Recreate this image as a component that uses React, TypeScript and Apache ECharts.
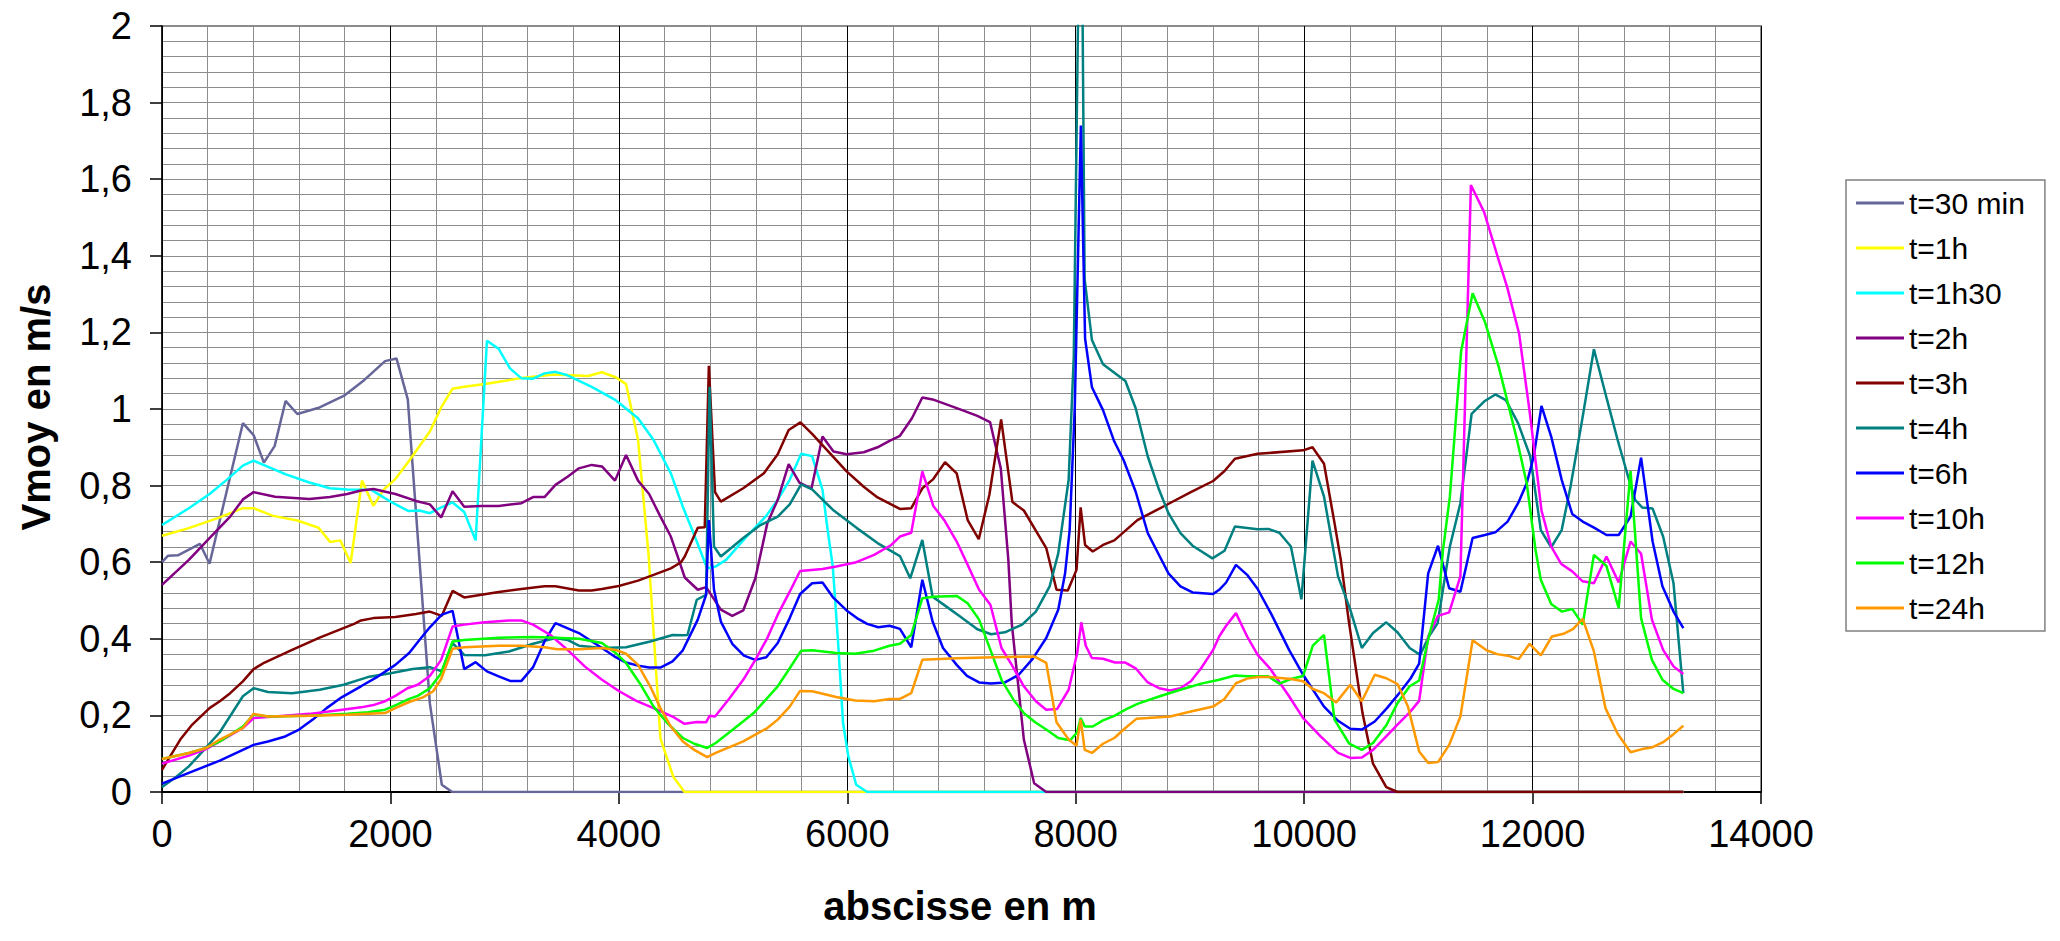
import React, { useEffect, useRef } from 'react';
import * as echarts from 'echarts';

type Pt = [number, number];

const seriesNames = ['t=30 min', 't=1h', 't=1h30', 't=2h', 't=3h', 't=4h', 't=6h', 't=10h', 't=12h', 't=24h'];

const t30min: Pt[] = [
  [0, 0.6], [54, 0.617], [139, 0.618], [332, 0.648], [416, 0.596], [708, 0.963], [802, 0.932], [892, 0.86],
  [986, 0.903], [1082, 1.021], [1185, 0.987], [1380, 1.004], [1591, 1.034], [1772, 1.076], [1953, 1.125],
  [2053, 1.132], [2152, 1.025], [2345, 0.232], [2450, 0.019], [2541, 0], [13320, 0],
];

const t1h: Pt[] = [
  [0, 0.669], [235, 0.689], [506, 0.717], [708, 0.741], [802, 0.741], [974, 0.721], [1185, 0.709], [1371, 0.69],
  [1471, 0.653], [1561, 0.657], [1652, 0.598], [1751, 0.813], [1851, 0.747], [1938, 0.789], [2043, 0.817],
  [2164, 0.865], [2345, 0.941], [2444, 1.004], [2544, 1.053], [2646, 1.058], [2827, 1.065], [3129, 1.08],
  [3430, 1.09], [3731, 1.086], [3852, 1.096], [3972, 1.083], [4063, 1.065], [4168, 0.92], [4260, 0.62],
  [4364, 0.14], [4476, 0.04], [4575, 0], [13320, 0],
];

const t1h30: Pt[] = [
  [0, 0.697], [235, 0.741], [416, 0.778], [567, 0.815], [708, 0.852], [802, 0.865], [1079, 0.83], [1290, 0.808],
  [1471, 0.793], [1622, 0.79], [1833, 0.789], [2013, 0.756], [2155, 0.734], [2254, 0.735], [2345, 0.728],
  [2450, 0.744], [2544, 0.756], [2646, 0.731], [2746, 0.657], [2845, 1.178], [2948, 1.157], [3047, 1.106],
  [3147, 1.08], [3249, 1.079], [3349, 1.093], [3445, 1.097], [3551, 1.088], [3762, 1.058], [3972, 1.023],
  [4168, 0.976], [4304, 0.919], [4455, 0.832], [4560, 0.745], [4660, 0.671], [4773, 0.584], [4848, 0.589],
  [4939, 0.606], [5119, 0.667], [5285, 0.719], [5391, 0.763], [5496, 0.815], [5596, 0.883], [5692, 0.877],
  [5783, 0.789], [5828, 0.684], [5873, 0.589], [5918, 0.397], [5963, 0.18], [6009, 0.093], [6078, 0.019],
  [6174, 0], [13320, 0],
];

const t2h: Pt[] = [
  [0, 0.541], [235, 0.606], [416, 0.663], [597, 0.719], [708, 0.764], [802, 0.783], [989, 0.771], [1290, 0.765],
  [1471, 0.77], [1622, 0.778], [1742, 0.787], [1851, 0.791], [2043, 0.778], [2224, 0.76], [2345, 0.751],
  [2444, 0.717], [2544, 0.785], [2646, 0.745], [2797, 0.747], [2948, 0.747], [3147, 0.754], [3249, 0.77],
  [3349, 0.77], [3445, 0.802], [3551, 0.823], [3650, 0.845], [3762, 0.854], [3852, 0.85], [3966, 0.813],
  [4063, 0.88], [4168, 0.813], [4265, 0.778], [4364, 0.719], [4455, 0.667], [4515, 0.615], [4577, 0.56],
  [4691, 0.528], [4764, 0.535], [4893, 0.476], [4993, 0.46], [5089, 0.474], [5195, 0.558], [5300, 0.702],
  [5391, 0.763], [5487, 0.856], [5581, 0.808], [5686, 0.792], [5783, 0.928], [5879, 0.889], [5994, 0.882],
  [6144, 0.887], [6265, 0.9], [6370, 0.917], [6461, 0.93], [6566, 0.976], [6657, 1.03], [6747, 1.025],
  [6988, 0.999], [7139, 0.982], [7250, 0.966], [7344, 0.845], [7410, 0.606], [7440, 0.441], [7546, 0.137],
  [7636, 0.023], [7742, 0], [13320, 0],
];

const t3h: Pt[] = [
  [0, 0.058], [160, 0.137], [265, 0.176], [416, 0.219], [506, 0.237], [597, 0.258], [708, 0.289], [802, 0.321],
  [898, 0.338], [1139, 0.371], [1380, 0.403], [1682, 0.439], [1742, 0.448], [1851, 0.454], [2043, 0.457],
  [2224, 0.465], [2345, 0.471], [2450, 0.46], [2544, 0.525], [2646, 0.508], [2797, 0.515], [2948, 0.522],
  [3147, 0.53], [3349, 0.537], [3445, 0.537], [3650, 0.526], [3762, 0.526], [3852, 0.53], [3999, 0.538],
  [4168, 0.552], [4304, 0.567], [4455, 0.584], [4545, 0.6], [4577, 0.615], [4691, 0.69], [4752, 0.691],
  [4788, 1.113], [4842, 0.783], [4893, 0.758], [5089, 0.793], [5270, 0.832], [5391, 0.882], [5487, 0.945],
  [5590, 0.965], [5692, 0.935], [5994, 0.837], [6144, 0.797], [6265, 0.769], [6461, 0.739], [6560, 0.741],
  [6657, 0.793], [6753, 0.817], [6856, 0.861], [6958, 0.832], [7054, 0.71], [7151, 0.66], [7244, 0.776],
  [7347, 0.973], [7446, 0.757], [7546, 0.735], [7742, 0.637], [7832, 0.528], [7931, 0.526], [8007, 0.58],
  [8043, 0.743], [8082, 0.645], [8149, 0.628], [8239, 0.645], [8338, 0.657], [8540, 0.71], [8797, 0.75],
  [9008, 0.783], [9203, 0.812], [9303, 0.838], [9394, 0.87], [9593, 0.883], [9991, 0.892], [10073, 0.9],
  [10174, 0.857], [10266, 0.702], [10321, 0.606], [10389, 0.45], [10511, 0.206], [10603, 0.074],
  [10719, 0.013], [10817, 0], [13320, 0],
];

const t4h: Pt[] = [
  [0, 0.013], [115, 0.037], [235, 0.067], [356, 0.106], [506, 0.156], [708, 0.25], [802, 0.271], [928, 0.261],
  [1139, 0.258], [1380, 0.267], [1591, 0.28], [1802, 0.3], [2001, 0.31], [2194, 0.321], [2345, 0.326],
  [2450, 0.315], [2544, 0.389], [2646, 0.358], [2827, 0.357], [3038, 0.367], [3249, 0.387], [3445, 0.402],
  [3551, 0.397], [3650, 0.382], [3852, 0.376], [4063, 0.378], [4274, 0.393], [4470, 0.41], [4560, 0.409],
  [4601, 0.41], [4682, 0.502], [4764, 0.515], [4794, 1.058], [4833, 0.641], [4893, 0.615], [4999, 0.641],
  [5089, 0.663], [5240, 0.697], [5391, 0.719], [5496, 0.751], [5596, 0.803], [5692, 0.79], [5873, 0.737],
  [6084, 0.689], [6265, 0.65], [6461, 0.616], [6551, 0.558], [6657, 0.658], [6747, 0.51], [6868, 0.484],
  [6988, 0.458], [7139, 0.425], [7259, 0.412], [7380, 0.417], [7531, 0.437], [7651, 0.471], [7772, 0.537],
  [7847, 0.623], [7938, 0.815], [7983, 1.137], [8045, 2.6], [8078, 1.34], [8142, 1.18], [8239, 1.117],
  [8435, 1.073], [8525, 1.002], [8631, 0.876], [8730, 0.789], [8812, 0.728], [8917, 0.676], [9023, 0.643],
  [9197, 0.61], [9303, 0.63], [9394, 0.693], [9593, 0.686], [9685, 0.687], [9783, 0.677], [9884, 0.641],
  [9976, 0.503], [10073, 0.865], [10174, 0.771], [10297, 0.563], [10404, 0.476], [10505, 0.376],
  [10603, 0.415], [10719, 0.443], [10817, 0.417], [10924, 0.376], [11016, 0.358], [11092, 0.406],
  [11169, 0.441], [11215, 0.528], [11276, 0.641], [11368, 0.754], [11466, 0.987], [11582, 1.021],
  [11674, 1.038], [11766, 1.023], [11873, 0.963], [11980, 0.876], [12072, 0.684], [12163, 0.639],
  [12255, 0.684], [12332, 0.797], [12439, 0.98], [12537, 1.156], [12653, 1.023], [12745, 0.919],
  [12837, 0.823], [12898, 0.763], [12959, 0.743], [13051, 0.74], [13143, 0.667], [13234, 0.545], [13320, 0.258],
];

const t6h: Pt[] = [
  [0, 0.022], [235, 0.05], [506, 0.082], [708, 0.11], [802, 0.123], [928, 0.132], [1079, 0.145], [1200, 0.163],
  [1320, 0.189], [1441, 0.219], [1561, 0.245], [1742, 0.276], [1893, 0.302], [2043, 0.332], [2164, 0.363],
  [2254, 0.397], [2345, 0.43], [2450, 0.463], [2544, 0.473], [2646, 0.321], [2746, 0.339], [2845, 0.315],
  [2948, 0.302], [3047, 0.29], [3147, 0.29], [3249, 0.326], [3349, 0.393], [3445, 0.441], [3650, 0.415],
  [3852, 0.376], [3972, 0.352], [4063, 0.338], [4168, 0.33], [4265, 0.325], [4364, 0.325], [4470, 0.341],
  [4560, 0.37], [4691, 0.45], [4764, 0.515], [4788, 0.71], [4833, 0.528], [4893, 0.445], [4993, 0.387],
  [5095, 0.356], [5195, 0.345], [5291, 0.352], [5391, 0.389], [5496, 0.454], [5587, 0.517], [5692, 0.545],
  [5783, 0.547], [5873, 0.509], [5994, 0.474], [6084, 0.454], [6174, 0.439], [6271, 0.43], [6370, 0.434],
  [6461, 0.426], [6560, 0.378], [6657, 0.554], [6747, 0.445], [6838, 0.376], [6958, 0.332], [7048, 0.303],
  [7154, 0.286], [7259, 0.283], [7380, 0.286], [7501, 0.306], [7621, 0.347], [7742, 0.402], [7847, 0.476],
  [7907, 0.571], [7947, 0.684], [7992, 1.006], [8045, 1.74], [8082, 1.184], [8142, 1.057], [8239, 0.997],
  [8338, 0.915], [8419, 0.867], [8525, 0.784], [8631, 0.676], [8736, 0.615], [8812, 0.571], [8917, 0.537],
  [9023, 0.521], [9203, 0.517], [9256, 0.528], [9317, 0.547], [9403, 0.593], [9501, 0.567], [9593, 0.53],
  [9715, 0.463], [9868, 0.371], [9991, 0.306], [10174, 0.223], [10297, 0.186], [10404, 0.165],
  [10505, 0.163], [10618, 0.184], [10725, 0.219], [10832, 0.258], [10933, 0.297], [11007, 0.335],
  [11086, 0.571], [11172, 0.643], [11270, 0.532], [11368, 0.523], [11475, 0.663], [11582, 0.671],
  [11674, 0.678], [11781, 0.706], [11873, 0.754], [11949, 0.806], [12010, 0.876], [12078, 1.008],
  [12163, 0.928], [12255, 0.815], [12347, 0.726], [12439, 0.706], [12546, 0.689], [12647, 0.671],
  [12754, 0.671], [12858, 0.719], [12950, 0.873], [13051, 0.654], [13137, 0.537], [13234, 0.471], [13320, 0.428],
];

const t10h: Pt[] = [
  [0, 0.074], [235, 0.095], [386, 0.112], [506, 0.132], [708, 0.167], [802, 0.193], [989, 0.197], [1290, 0.204],
  [1531, 0.213], [1742, 0.221], [1863, 0.228], [1953, 0.237], [2043, 0.251], [2149, 0.271], [2239, 0.28],
  [2345, 0.303], [2444, 0.345], [2544, 0.432], [2646, 0.437], [2827, 0.443], [3038, 0.448], [3147, 0.448],
  [3249, 0.437], [3400, 0.41], [3551, 0.371], [3701, 0.328], [3852, 0.293], [4003, 0.263], [4153, 0.238],
  [4304, 0.219], [4470, 0.197], [4575, 0.178], [4682, 0.183], [4764, 0.182], [4794, 0.199], [4842, 0.197],
  [4969, 0.245], [5089, 0.293], [5195, 0.345], [5300, 0.402], [5391, 0.463], [5496, 0.523], [5587, 0.577],
  [5783, 0.582], [5903, 0.589], [6069, 0.599], [6235, 0.619], [6385, 0.645], [6461, 0.667], [6560, 0.677],
  [6657, 0.837], [6753, 0.747], [6853, 0.708], [6958, 0.654], [7054, 0.593], [7154, 0.528], [7253, 0.489],
  [7350, 0.376], [7440, 0.332], [7546, 0.276], [7651, 0.237], [7742, 0.215], [7838, 0.217], [7938, 0.267],
  [8013, 0.363], [8049, 0.443], [8088, 0.382], [8142, 0.35], [8239, 0.348], [8344, 0.338], [8435, 0.338],
  [8525, 0.323], [8631, 0.286], [8730, 0.271], [8827, 0.265], [8917, 0.271], [9008, 0.289], [9098, 0.323],
  [9203, 0.371], [9256, 0.406], [9317, 0.434], [9403, 0.467], [9501, 0.406], [9593, 0.358], [9700, 0.323],
  [9868, 0.25], [9991, 0.193], [10144, 0.145], [10297, 0.102], [10404, 0.089], [10505, 0.09], [10603, 0.11],
  [10719, 0.145], [10817, 0.176], [10924, 0.208], [11007, 0.238], [11086, 0.406], [11172, 0.46],
  [11270, 0.469], [11368, 0.563], [11460, 1.585], [11576, 1.514], [11690, 1.402], [11777, 1.319],
  [11882, 1.197], [11980, 0.98], [12078, 0.735], [12163, 0.641], [12249, 0.596], [12347, 0.576],
  [12439, 0.55], [12537, 0.545], [12647, 0.615], [12754, 0.547], [12858, 0.654], [12950, 0.622],
  [13045, 0.45], [13143, 0.371], [13234, 0.328], [13320, 0.308],
];

const t12h: Pt[] = [
  [0, 0.086], [235, 0.102], [386, 0.115], [506, 0.132], [708, 0.171], [802, 0.202], [928, 0.197], [1290, 0.199],
  [1622, 0.204], [1802, 0.208], [1953, 0.215], [2043, 0.226], [2164, 0.243], [2239, 0.251], [2345, 0.271],
  [2444, 0.31], [2544, 0.393], [2646, 0.397], [2948, 0.403], [3249, 0.405], [3445, 0.403], [3650, 0.4],
  [3852, 0.389], [3972, 0.363], [4063, 0.337], [4183, 0.284], [4304, 0.223], [4424, 0.18], [4560, 0.141],
  [4660, 0.126], [4773, 0.115], [4848, 0.128], [4999, 0.163], [5180, 0.206], [5391, 0.276], [5496, 0.323],
  [5596, 0.369], [5692, 0.37], [5903, 0.363], [6069, 0.361], [6235, 0.369], [6370, 0.382], [6461, 0.387],
  [6560, 0.41], [6657, 0.506], [6753, 0.51], [6958, 0.512], [7054, 0.493], [7154, 0.45], [7253, 0.371],
  [7350, 0.293], [7455, 0.241], [7546, 0.206], [7645, 0.182], [7742, 0.163], [7847, 0.141], [7952, 0.135],
  [8013, 0.156], [8043, 0.193], [8079, 0.171], [8149, 0.171], [8239, 0.187], [8338, 0.199], [8435, 0.215],
  [8540, 0.23], [8736, 0.25], [8917, 0.267], [9098, 0.283], [9256, 0.293], [9394, 0.304], [9501, 0.302],
  [9685, 0.302], [9783, 0.283], [9884, 0.295], [9991, 0.303], [10076, 0.382], [10174, 0.41], [10266, 0.189],
  [10395, 0.126], [10505, 0.11], [10603, 0.128], [10719, 0.174], [10817, 0.232], [10924, 0.276],
  [11007, 0.291], [11092, 0.406], [11178, 0.502], [11215, 0.63], [11276, 0.771], [11374, 1.15],
  [11475, 1.302], [11582, 1.228], [11704, 1.11], [11857, 0.928], [11949, 0.806], [12026, 0.632],
  [12072, 0.554], [12163, 0.491], [12255, 0.471], [12347, 0.478], [12439, 0.437], [12537, 0.619],
  [12647, 0.59], [12754, 0.48], [12858, 0.838], [12950, 0.454], [13045, 0.345], [13137, 0.293],
  [13234, 0.269], [13320, 0.258],
];

const t24h: Pt[] = [
  [0, 0.086], [235, 0.102], [386, 0.115], [506, 0.137], [708, 0.167], [802, 0.204], [928, 0.197], [1290, 0.199],
  [1622, 0.202], [1953, 0.206], [2043, 0.219], [2164, 0.235], [2284, 0.247], [2375, 0.263], [2444, 0.295],
  [2544, 0.374], [2646, 0.378], [2948, 0.382], [3147, 0.382], [3349, 0.378], [3460, 0.373], [3650, 0.373],
  [3852, 0.376], [3972, 0.371], [4063, 0.361], [4168, 0.332], [4274, 0.276], [4364, 0.219], [4455, 0.171],
  [4560, 0.132], [4660, 0.11], [4773, 0.091], [4848, 0.102], [4969, 0.117], [5089, 0.132], [5195, 0.15],
  [5300, 0.167], [5391, 0.189], [5496, 0.223], [5587, 0.264], [5692, 0.263], [5903, 0.248], [6069, 0.239],
  [6235, 0.237], [6370, 0.243], [6461, 0.243], [6560, 0.258], [6657, 0.345], [6958, 0.349], [7289, 0.352],
  [7636, 0.354], [7742, 0.337], [7832, 0.182], [7938, 0.137], [8007, 0.121], [8043, 0.189], [8079, 0.11],
  [8142, 0.102], [8239, 0.126], [8338, 0.141], [8435, 0.167], [8531, 0.191], [8631, 0.193], [8827, 0.197],
  [9008, 0.21], [9203, 0.223], [9302, 0.243], [9403, 0.284], [9501, 0.296], [9593, 0.3], [9700, 0.3],
  [9884, 0.295], [9991, 0.289], [10076, 0.269], [10174, 0.258], [10281, 0.234], [10404, 0.28], [10505, 0.237],
  [10618, 0.306], [10719, 0.297], [10817, 0.282], [10909, 0.223], [11007, 0.106], [11086, 0.076],
  [11172, 0.078], [11270, 0.123], [11368, 0.197], [11475, 0.396], [11597, 0.37], [11689, 0.36],
  [11781, 0.356], [11879, 0.347], [11974, 0.387], [12072, 0.357], [12169, 0.406], [12271, 0.413],
  [12353, 0.425], [12439, 0.452], [12537, 0.367], [12638, 0.219], [12745, 0.152], [12858, 0.104],
  [12959, 0.112], [13051, 0.117], [13143, 0.13], [13234, 0.151], [13320, 0.173],
];

const seriesColors = ['#666699', '#FFFF00', '#00FFFF', '#800080', '#800000', '#008080', '#0000FF', '#FF00FF', '#00FF00', '#FF9900'];

const FONT = '"Liberation Sans", Arial, sans-serif';

export default function App() {
  const ref = useRef<HTMLDivElement>(null);

  useEffect(() => {
    if (!ref.current) return;
    const chart = echarts.init(ref.current, null, { renderer: 'svg' });
    const allData = [t30min, t1h, t1h30, t2h, t3h, t4h, t6h, t10h, t12h, t24h];

    chart.setOption({
      animation: false,
      backgroundColor: '#ffffff',
      textStyle: { fontFamily: FONT },
      grid: {
        left: 162,
        right: 299,
        top: 26,
        bottom: 149,
        show: true,
        borderColor: '#8c8c8c',
        borderWidth: 2,
        backgroundColor: '#ffffff',
      },
      xAxis: {
        type: 'value',
        min: 0,
        max: 14000,
        interval: 2000,
        axisLine: { show: true, onZero: false, lineStyle: { color: '#000', width: 2 } },
        axisTick: { show: true, inside: false, length: 12, lineStyle: { color: '#000', width: 1.5 } },
        axisLabel: {
          color: '#000',
          fontSize: 38,
          fontFamily: FONT,
          margin: 23,
          formatter: (v: number) => String(Math.round(v)),
        },
        splitLine: { show: true, lineStyle: { color: '#000', width: 1 } },
        minorTick: { show: false, splitNumber: 5 },
        minorSplitLine: { show: true, lineStyle: { color: '#8c8c8c', width: 1 } },
      },
      yAxis: {
        type: 'value',
        min: 0,
        max: 2,
        interval: 0.2,
        axisLine: { show: true, lineStyle: { color: '#000', width: 1.5 } },
        axisTick: { show: true, inside: false, length: 12, lineStyle: { color: '#000', width: 1.5 } },
        axisLabel: {
          color: '#000',
          fontSize: 38,
          fontFamily: FONT,
          margin: 30,
          formatter: (v: number) => String(Number(v.toFixed(1))).replace('.', ','),
        },
        splitLine: { show: true, lineStyle: { color: '#8c8c8c', width: 1 } },
        minorTick: { show: false, splitNumber: 5 },
        minorSplitLine: { show: true, lineStyle: { color: '#8c8c8c', width: 1 } },
      },
      legend: {
        orient: 'vertical',
        left: 1846,
        top: 180,
        icon: 'rect',
        itemWidth: 48,
        itemHeight: 3,
        itemGap: 15,
        padding: [8, 20, 8, 10],
        borderColor: '#808080',
        borderWidth: 1.5,
        backgroundColor: '#ffffff',
        textStyle: { fontSize: 30, color: '#000', fontFamily: FONT, lineHeight: 30 },
        data: seriesNames,
      },
      graphic: [
        {
          type: 'text',
          x: 36,
          y: 407,
          rotation: Math.PI / 2,
          style: {
            text: 'Vmoy en m/s',
            font: `bold 40px ${FONT}`,
            fill: '#000',
            align: 'center',
            verticalAlign: 'middle',
            textAlign: 'center',
            textVerticalAlign: 'middle',
          },
        },
        {
          type: 'text',
          x: 960,
          y: 906,
          style: {
            text: 'abscisse en m',
            font: `bold 40px ${FONT}`,
            fill: '#000',
            align: 'center',
            verticalAlign: 'middle',
            textAlign: 'center',
            textVerticalAlign: 'middle',
          },
        },
      ],
      series: allData.map((d, i) => ({
        type: 'line',
        name: seriesNames[i],
        data: d,
        showSymbol: false,
        symbol: 'none',
        clip: true,
        silent: true,
        lineStyle: { color: seriesColors[i], width: 2.5 },
        itemStyle: { color: seriesColors[i] },
      })),
    });

    return () => chart.dispose();
  }, []);

  return (
    <div
      ref={ref}
      style={{ position: 'absolute', left: 0, top: 0, width: 2060, height: 941, background: '#fff' }}
    />
  );
}
